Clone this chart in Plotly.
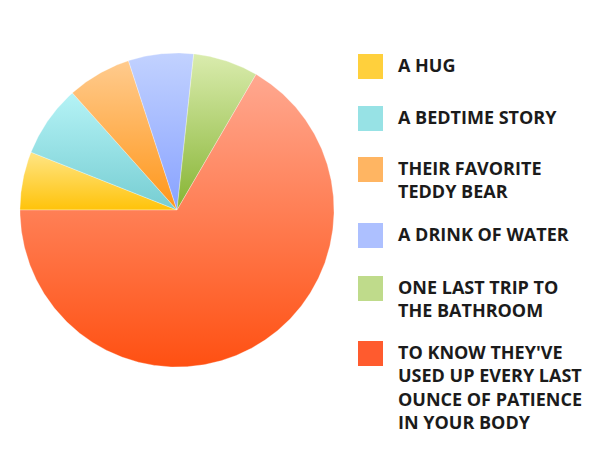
import numpy as np
import plotly.graph_objects as go

# data (share of the pie, in percent)
labels = [
    "A HUG",
    "A BEDTIME STORY",
    "THEIR FAVORITE<br>TEDDY BEAR",
    "A DRINK OF WATER",
    "ONE LAST TRIP TO<br>THE BATHROOM",
    "TO KNOW THEY'VE<br>USED UP EVERY LAST<br>OUNCE OF PATIENCE<br>IN YOUR BODY",
]
values = [6.0, 7.4, 6.6, 6.7, 6.7, 66.6]

# slice gradients: (bottom, top) and the flat legend swatch
grad_bottom = ["#FFC30A", "#76CDD2", "#FF9619", "#88A2FF", "#86B433", "#FF5012"]
grad_top = ["#FFE585", "#B5F3F6", "#FFCB8E", "#C2D2FF", "#DAECAE", "#FFA890"]
swatch = ["#FFD03C", "#97E2E5", "#FFB562", "#ADC0FF", "#BFDB8B", "#FF5B2E"]

# legend square tops, in pixels of the 610x467 page
legend_tops = [54, 106, 157, 223, 276, 341]

W, H = 610, 467
OFF = 8  # the page body margin shifts the figure by this much
L, T, S = 18 - OFF, 51 - OFF, 318  # plot area: left, top, size (square)
R = 1.0127  # axis half range so that the unit circle is ~157px


def px_x(x):
    return (x - OFF - L) / S


def px_y(y):
    return (T + S - (y - OFF)) / S


fig = go.Figure()

start = 270.0  # first slice starts at 9 o'clock, clockwise
total = sum(values)
for val, lo, hi in zip(values, grad_bottom, grad_top):
    span = 360.0 * val / total
    t = np.radians(np.linspace(start, start + span, max(int(span * 2), 8)))
    xs = np.concatenate([[0], np.sin(t), [0]])
    ys = np.concatenate([[0], np.cos(t), [0]])
    fig.add_trace(go.Scatter(
        x=xs, y=ys, mode="lines", fill="toself",
        line=dict(color="rgba(255,255,255,0.5)", width=0.6),
        fillgradient=dict(type="vertical", colorscale=[[0, lo], [1, hi]]),
        hoverinfo="skip", showlegend=False,
    ))
    start += span

shapes = []
annotations = []
for lab, col, top in zip(labels, swatch, legend_tops):
    shapes.append(dict(
        type="rect", xref="paper", yref="paper",
        x0=px_x(358), x1=px_x(383), y0=px_y(top + 25), y1=px_y(top),
        fillcolor=col, line=dict(width=0),
    ))
    annotations.append(dict(
        text=lab, xref="paper", yref="paper",
        x=px_x(396), y=px_y(top - 3), xanchor="left", yanchor="top",
        align="left", showarrow=False,
        font=dict(family="Open Sans", size=18, color="#1B1B1B", weight="bold"),
    ))

fig.update_layout(
    width=W, height=H,
    margin=dict(l=L, r=W - L - S, t=T, b=H - T - S),
    paper_bgcolor="white", plot_bgcolor="white",
    xaxis=dict(range=[-R, R], visible=False, fixedrange=True),
    yaxis=dict(range=[-R, R], visible=False, fixedrange=True),
    shapes=shapes, annotations=annotations,
    showlegend=False,
)

fig.write_html("out.html")
